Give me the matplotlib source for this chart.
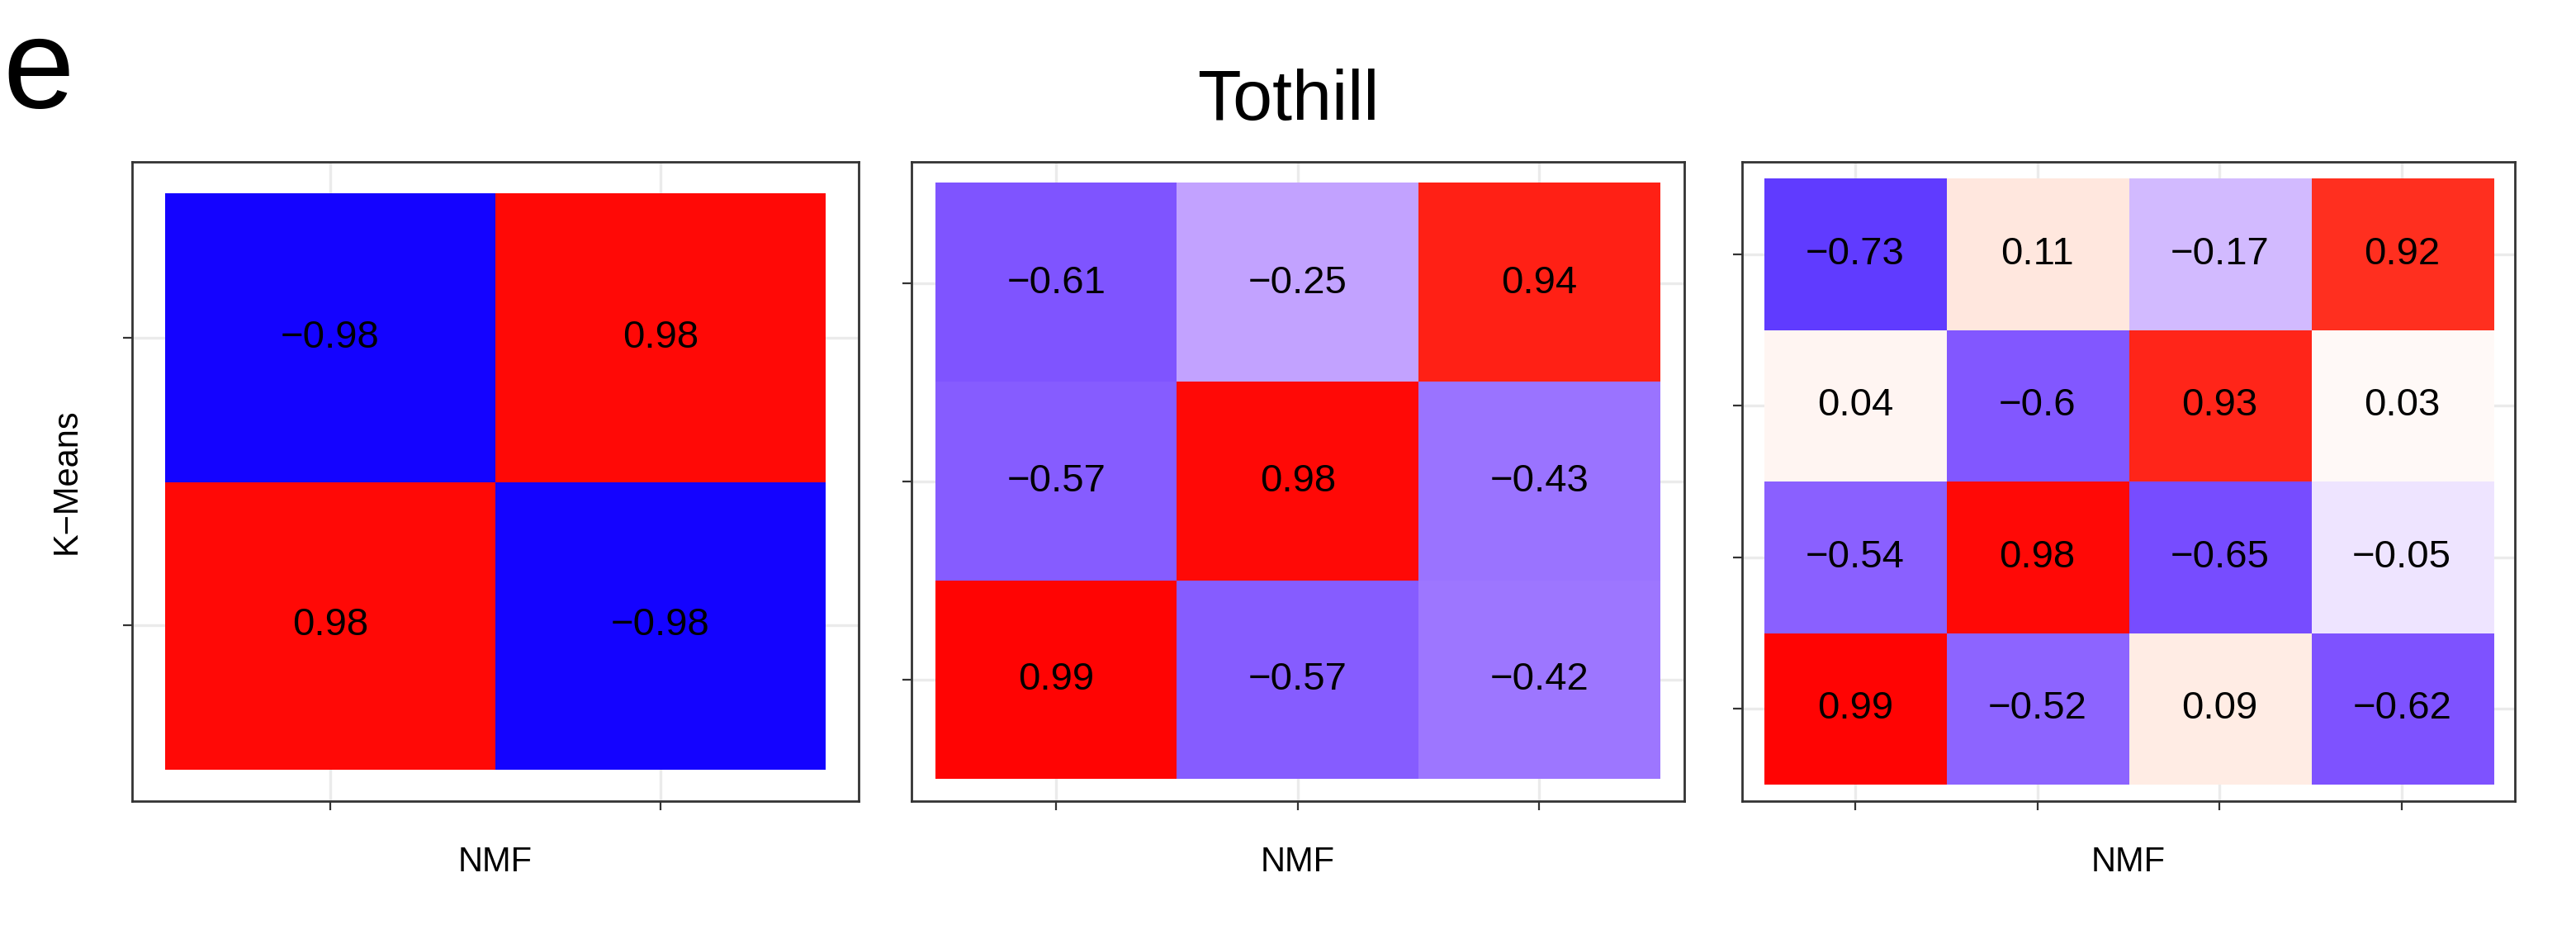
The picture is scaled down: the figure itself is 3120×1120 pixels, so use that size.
import numpy as np
import matplotlib.pyplot as plt
from matplotlib.colors import LinearSegmentedColormap

# correlation matrices, rows listed top to bottom
corr_2 = [[-0.98, 0.98],
          [0.98, -0.98]]
corr_3 = [[-0.61, -0.25, 0.94],
          [-0.57, 0.98, -0.43],
          [0.99, -0.57, -0.42]]
corr_4 = [[-0.73, 0.11, -0.17, 0.92],
          [0.04, -0.6, 0.93, 0.03],
          [-0.54, 0.98, -0.65, -0.05],
          [0.99, -0.52, 0.09, -0.62]]

# blue-white-red, roughly the Lab-interpolated ggplot gradient2
cmap = LinearSegmentedColormap.from_list("bwr_lab", [
    (0.00, "#1000FF"), (0.18, "#7C50FF"), (0.30, "#A07AFF"),
    (0.375, "#C2A2FF"), (0.45, "#E0D0FF"), (0.49, "#F8F2FF"),
    (0.50, "#FFFFFF"), (0.55, "#FFEAE2"), (0.75, "#FF9A80"),
    (0.96, "#FF3020"), (1.00, "#FF0000")])

plt.rcParams['font.family'] = ['Liberation Sans', 'DejaVu Sans']
fig = plt.figure(figsize=(15.6, 5.6), dpi=200)

panels = [(corr_2, 0.0513, 0.282, 0.10, 0.11),
          (corr_3, 0.3538, 0.300, 0.10, 0.11),
          (corr_4, 0.6763, 0.300, 0.12, 0.11)]

for i, (mat, left, width, mx, my) in enumerate(panels):
    mat = np.array(mat)
    n_r, n_c = mat.shape
    ax = fig.add_axes([left, 0.134, width, 0.691])
    for c in range(n_c):
        ax.axvline(c + 1, color="#EBEBEB", lw=1.2, zorder=0)
    for r in range(n_r):
        ax.axhline(r + 1, color="#EBEBEB", lw=1.2, zorder=0)
    ax.imshow(mat[::-1], cmap=cmap, vmin=-1, vmax=1, origin="lower",
              extent=(0.5, n_c + 0.5, 0.5, n_r + 0.5), aspect="auto", zorder=1)
    for r in range(n_r):
        for c in range(n_c):
            v = mat[n_r - 1 - r, c]
            ax.text(c + 1, r + 1, f"{v:g}".replace("-", "\u2212"),
                    ha="center", va="center", fontsize=17, zorder=2)
    ax.set_xlim(0.5 - mx, n_c + 0.5 + mx)
    ax.set_ylim(0.5 - my, n_r + 0.5 + my)
    ax.set_xticks(range(1, n_c + 1))
    ax.set_yticks(range(1, n_r + 1))
    ax.set_xticklabels([])
    ax.set_yticklabels([])
    ax.tick_params(length=4, color="#333333", width=0.8)
    for s in ax.spines.values():
        s.set_color("#333333")
        s.set_linewidth(1.0)
    ax.set_xlabel("NMF", fontsize=15, labelpad=12)
    if i == 0:
        ax.set_ylabel("K\u2212Means", fontsize=15, labelpad=14)

fig.text(0.5, 0.89, "Tothill", ha="center", va="center", fontsize=31)
fig.text(0.001, 0.92, "e", ha="left", va="center", fontsize=56)

fig.savefig("out.png", dpi=200)
